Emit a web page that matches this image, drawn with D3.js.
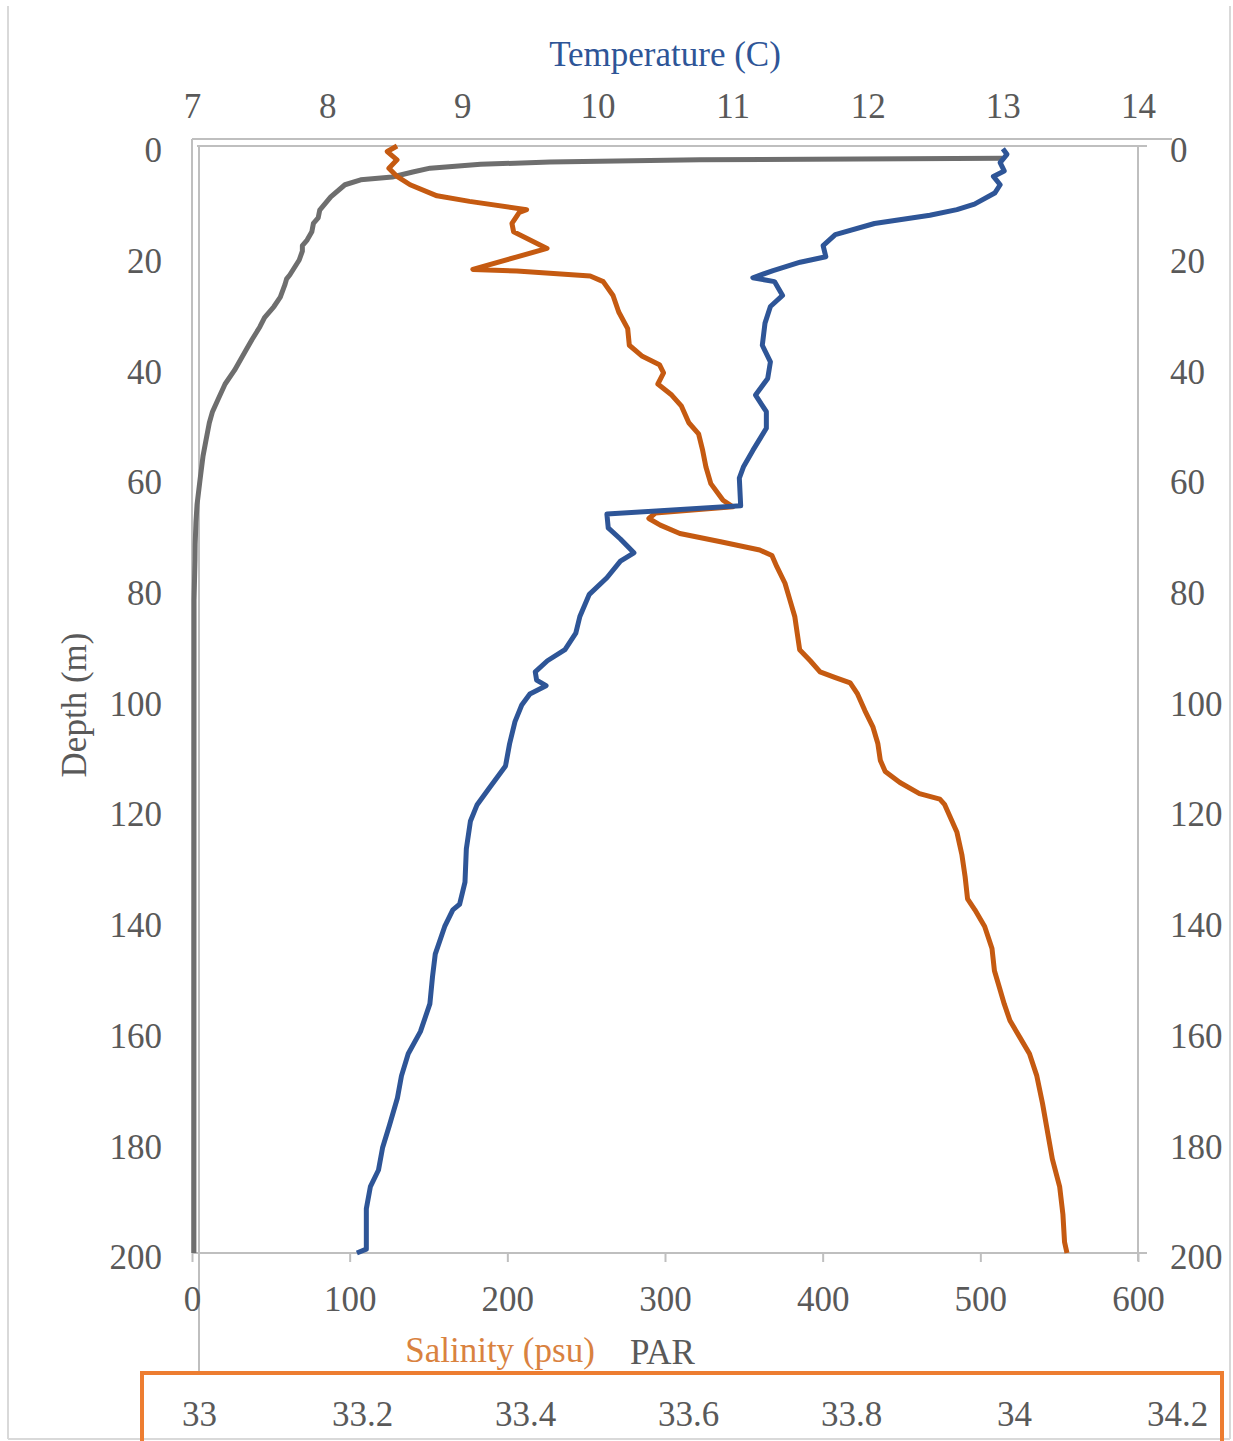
<!DOCTYPE html>
<html>
<head>
<meta charset="utf-8">
<script src="https://cdn.jsdelivr.net/npm/d3@7"></script>
<style>
  html, body { margin: 0; padding: 0; background: #fff; }
  svg { display: block; }
  text { font-family: "Liberation Serif", "DejaVu Serif", serif; }
</style>
</head>
<body>
<svg id="chart" width="1233" height="1441"></svg>
<script>
// ---------------- data ----------------
const depthTicks = [0, 20, 40, 60, 80, 100, 120, 140, 160, 180, 200];
const tempTicks = [7, 8, 9, 10, 11, 12, 13, 14];
const parTicks = [0, 100, 200, 300, 400, 500, 600];
const salTicks = [33, 33.2, 33.4, 33.6, 33.8, 34, 34.2];

// Temperature profile (C) vs depth (m)
const tempDepth = [0.5, 1.5, 3, 4.5, 5.5, 7, 8.5, 10.5, 11.5, 12.5, 14, 16, 18, 20, 21, 22.5, 23.8, 24.5, 27, 29, 32, 36, 39, 42, 45, 48, 51, 55, 58, 60, 65,
  66.5, 69, 71, 73.5, 75, 78, 81, 85, 88, 91, 93, 95, 96.5, 97.5, 99, 101, 104, 108, 112, 116, 119, 122, 127, 133, 137, 138, 141, 146, 150, 155, 160, 164, 168, 172, 177, 181, 185, 188, 192, 196, 199.3, 200];
const tempValue = [13.00, 13.03, 12.98, 13.01, 12.93, 12.98, 12.94, 12.79, 12.66, 12.46, 12.05, 11.76, 11.67, 11.69, 11.50, 11.30, 11.15, 11.31, 11.37, 11.28, 11.24, 11.22, 11.28, 11.26, 11.17, 11.25, 11.25, 11.15, 11.08, 11.05, 11.06,
  10.07, 10.08, 10.17, 10.27, 10.17, 10.07, 9.94, 9.87, 9.84, 9.76, 9.63, 9.54, 9.55, 9.62, 9.50, 9.44, 9.39, 9.35, 9.32, 9.20, 9.11, 9.06, 9.03, 9.02, 8.98, 8.93, 8.87, 8.80, 8.78, 8.76, 8.69, 8.60, 8.55, 8.52, 8.46, 8.41, 8.38, 8.32, 8.29, 8.29, 8.29, 8.22];

// Salinity profile (psu) vs depth (m)
const salDepth = [0, 1, 2.5, 4, 5.5, 7, 9, 10, 11.5, 12, 14, 15.5, 18.5, 22.3, 22.6, 23.5, 24.5, 27, 30, 33, 36, 38, 39.5, 41, 43, 45, 47, 50, 52, 55, 58, 61, 64, 65.2,
  66.3, 67.3, 68.5, 70, 71.5, 73, 74, 76, 79, 82, 85, 88, 91, 93, 95, 96, 97, 99, 102, 105, 108, 111, 113, 115, 117, 118, 119, 121, 124, 128, 132, 136, 138, 141, 145, 149, 152, 155, 158, 161, 164, 168, 173, 178, 183, 188, 193, 198, 200];
const salValue = [33.243, 33.231, 33.243, 33.233, 33.243, 33.259, 33.292, 33.332, 33.402, 33.393, 33.384, 33.386, 33.427, 33.336, 33.390, 33.480, 33.496, 33.508, 33.515, 33.526, 33.528, 33.544, 33.565, 33.570, 33.563, 33.580, 33.592, 33.601, 33.613, 33.618, 33.622, 33.628, 33.643, 33.655,
  33.560, 33.552, 33.566, 33.590, 33.640, 33.688, 33.703, 33.709, 33.719, 33.725, 33.731, 33.734, 33.737, 33.750, 33.762, 33.780, 33.799, 33.808, 33.817, 33.827, 33.833, 33.836, 33.842, 33.860, 33.884, 33.909, 33.915, 33.921, 33.930, 33.936, 33.940, 33.943, 33.952, 33.964, 33.973, 33.976, 33.982, 33.988, 33.995, 34.007, 34.019, 34.028, 34.035, 34.041, 34.047, 34.056, 34.060, 34.062, 34.065];

// PAR profile vs depth (m)
const parDepth = [2.2, 2.5, 2.9, 3.3, 4.0, 4.7, 5.6, 6.1, 7.0, 9.2, 11.6, 13, 14, 15.5, 17, 18, 19, 20.6, 21.5, 23.3, 24, 25, 27.3, 29, 31, 32.7, 35, 37, 40.5, 43, 45.8, 48, 50, 53.1, 56, 60.3, 64.8, 68, 72, 74.8, 82, 200];
const parValue = [514, 322, 227, 183, 151, 140, 127, 107, 97, 88, 81, 80, 77, 76, 73, 70, 70, 68, 66, 62, 60, 59, 56, 52, 46, 43, 38, 34, 27, 21, 16.5, 13, 11, 8.9, 7, 5.1, 3.2, 2.5, 2.0, 1.9, 1.3, 1.2];

// ---------------- drawing ----------------
const svg = d3.select("#chart");
const FS = 35;
const txt = "#595959";
const axisGray = "#bfbfbf";
const blue = "#2E5597";
const orange = "#C55A11";
const gray = "#6E6E6E";

const y = d3.scaleLinear().domain([0, 200]).range([146, 1253]);
const xTemp = d3.scaleLinear().domain([7, 14]).range([192, 1138]);
const xPar = d3.scaleLinear().domain([0, 600]).range([192, 1138]);
const xSal = d3.scaleLinear().domain([33, 34.2]).range([199, 1177]);

// outer frame of the picture
svg.append("line").attr("x1", 8).attr("x2", 8).attr("y1", 6).attr("y2", 1439).attr("stroke", "#d9d9d9").attr("stroke-width", 2);
svg.append("line").attr("x1", 1230).attr("x2", 1230).attr("y1", 6).attr("y2", 1439).attr("stroke", "#d9d9d9").attr("stroke-width", 2);
svg.append("line").attr("x1", 8).attr("x2", 1230).attr("y1", 1439).attr("y2", 1439).attr("stroke", "#d9d9d9").attr("stroke-width", 2);

// axis lines
const g = svg.append("g");
g.append("line").attr("x1", 192).attr("x2", 1172).attr("y1", 139).attr("y2", 139).attr("stroke", axisGray).attr("stroke-width", 2);
g.append("line").attr("x1", 197).attr("x2", 1147).attr("y1", y(0)).attr("y2", y(0)).attr("stroke", axisGray).attr("stroke-width", 2);
g.append("line").attr("x1", 192).attr("x2", 192).attr("y1", 139).attr("y2", y(200)).attr("stroke", axisGray).attr("stroke-width", 2);
g.append("line").attr("x1", 199).attr("x2", 199).attr("y1", y(0)).attr("y2", 1372).attr("stroke", axisGray).attr("stroke-width", 2);
g.append("line").attr("x1", 1138).attr("x2", 1138).attr("y1", y(0)).attr("y2", y(200) + 8).attr("stroke", axisGray).attr("stroke-width", 2);

// bottom PAR axis
const parAxis = d3.axisBottom(xPar).tickValues(parTicks).tickSize(9).tickFormat(d3.format("d"));
const gPar = svg.append("g").attr("transform", `translate(0,${y(200)})`).call(parAxis);
gPar.select(".domain").attr("d", `M192,0H1147`).attr("stroke", axisGray).attr("stroke-width", 2);
gPar.selectAll(".tick line").attr("stroke", axisGray).attr("stroke-width", 2);
gPar.selectAll(".tick text").attr("font-size", FS).attr("fill", txt).attr("y", 0).attr("dy", "1.65em")
  .attr("font-family", "Liberation Serif");

// top temperature axis
const tempAxis = d3.axisTop(xTemp).tickValues(tempTicks).tickSize(0).tickFormat(d3.format("d"));
const gT = svg.append("g").attr("transform", "translate(0,139)").call(tempAxis);
gT.select(".domain").remove();
gT.selectAll(".tick text").attr("font-size", FS).attr("fill", txt).attr("y", -21).attr("font-family", "Liberation Serif");

// left depth axis
const leftAxis = d3.axisLeft(y).tickValues(depthTicks).tickSize(0);
const gL = svg.append("g").attr("transform", "translate(162,0)").call(leftAxis);
gL.select(".domain").remove();
gL.selectAll(".tick text").attr("font-size", FS).attr("fill", txt).attr("x", 0).attr("dy", "0.45em").attr("font-family", "Liberation Serif");

// right depth axis
const rightAxis = d3.axisRight(y).tickValues(depthTicks).tickSize(0);
const gR = svg.append("g").attr("transform", "translate(1170,0)").call(rightAxis);
gR.select(".domain").remove();
gR.selectAll(".tick text").attr("font-size", FS).attr("fill", txt).attr("x", 0).attr("dy", "0.45em").attr("font-family", "Liberation Serif");
// end ticks on right axis
svg.selectAll(".rtick").data([0, 200]).enter().append("line")
  .attr("x1", 1138).attr("x2", 1147).attr("y1", d => y(d)).attr("y2", d => y(d))
  .attr("stroke", axisGray).attr("stroke-width", 2);

// salinity axis labels (in orange box)
const salAxis = d3.axisBottom(xSal).tickValues(salTicks).tickSize(0).tickFormat(d => String(d));
const gS = svg.append("g").attr("transform", "translate(0,1400)").call(salAxis);
gS.select(".domain").remove();
gS.selectAll(".tick text").attr("font-size", FS).attr("fill", txt).attr("y", 0).attr("dy", "0.75em").attr("font-family", "Liberation Serif");

// lines
const lineTemp = d3.line().x(d => xTemp(d[1])).y(d => y(d[0]));
const linePar = d3.line().x(d => xPar(d[1])).y(d => y(d[0]));
const lineSal = d3.line().x(d => xSal(d[1])).y(d => y(d[0]));

svg.append("path").datum(parDepth.map((d, i) => [d, parValue[i]]))
  .attr("d", linePar).attr("fill", "none").attr("stroke", gray).attr("stroke-width", 5).attr("stroke-linejoin", "round");
svg.append("path").datum(salDepth.map((d, i) => [d, salValue[i]]))
  .attr("d", lineSal).attr("fill", "none").attr("stroke", orange).attr("stroke-width", 5).attr("stroke-linejoin", "round");
svg.append("path").datum(tempDepth.map((d, i) => [d, tempValue[i]]))
  .attr("d", lineTemp).attr("fill", "none").attr("stroke", blue).attr("stroke-width", 5).attr("stroke-linejoin", "round");

// titles
svg.append("text").attr("x", 665).attr("y", 66).attr("text-anchor", "middle").attr("font-size", FS).attr("fill", blue).text("Temperature (C)");
svg.append("text").attr("transform", "translate(86,705) rotate(-90)").attr("text-anchor", "middle").attr("font-size", FS).attr("fill", txt).text("Depth (m)");
svg.append("text").attr("x", 500).attr("y", 1362).attr("text-anchor", "middle").attr("font-size", FS).attr("fill", "#D9823F").text("Salinity (psu)");
svg.append("text").attr("x", 630).attr("y", 1364).attr("text-anchor", "start").attr("font-size", FS).attr("fill", txt).text("PAR");

// orange highlight box
svg.append("rect").attr("x", 142).attr("y", 1373).attr("width", 1080).attr("height", 90)
  .attr("fill", "none").attr("stroke", "#ED7D31").attr("stroke-width", 4);
</script>
</body>
</html>
